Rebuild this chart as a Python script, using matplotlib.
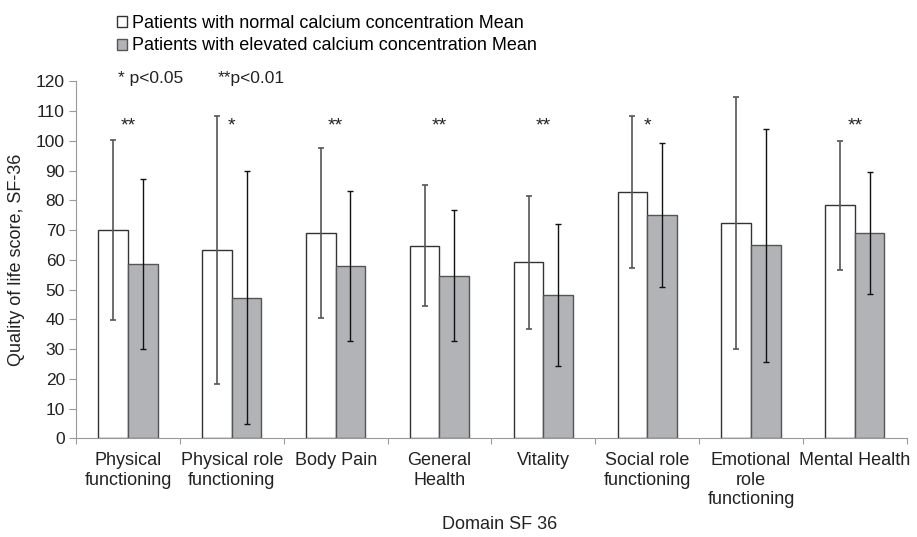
import numpy as np
from matplotlib import pyplot as plt

plt.rcParams['font.family'] = ['Liberation Sans', 'DejaVu Sans']

domains = ['Physical\nfunctioning', 'Physical role\nfunctioning', 'Body Pain',
           'General\nHealth', 'Vitality', 'Social role\nfunctioning',
           'Emotional\nrole\nfunctioning', 'Mental Health']
normal_mean = [70.0, 63.2, 69.0, 64.7, 59.1, 82.9, 72.3, 78.3]
normal_sd = [30.2, 45.0, 28.5, 20.3, 22.5, 25.6, 42.4, 21.8]
elevated_mean = [58.5, 47.3, 57.9, 54.7, 48.2, 75.1, 64.9, 69.0]
elevated_sd = [28.5, 42.6, 25.1, 22.0, 23.9, 24.1, 39.2, 20.5]
stars = ['**', '*', '**', '**', '**', '*', '', '**']

txt = '#222222'
fig = plt.figure(figsize=(9.17, 5.37), dpi=100)
ax = fig.add_axes([0.0829, 0.1838, 0.906, 0.6648])

x = np.arange(len(domains))
w = 0.285
b1 = ax.bar(x - w/2, normal_mean, w, color='white', edgecolor='#333333', linewidth=1.0,
            label='Patients with normal calcium concentration Mean')
b2 = ax.bar(x + w/2, elevated_mean, w, color='#b2b3b7', edgecolor='#555555', linewidth=1.0,
            label='Patients with elevated calcium concentration Mean')
ax.errorbar(x - w/2, normal_mean, yerr=normal_sd, fmt='none', ecolor='#555555',
            elinewidth=1.2, capsize=2, capthick=1.2)
ax.errorbar(x + w/2, elevated_mean, yerr=elevated_sd, fmt='none', ecolor='#111111',
            elinewidth=1.0, capsize=2, capthick=1.0)

# significance marks
for i, s in enumerate(stars):
    ax.text(x[i], 103.6, s, ha='center', va='baseline', fontsize=14, color=txt)

ax.set_xlim(-0.5, len(domains) - 0.5)
ax.set_ylim(0, 120)
ax.set_yticks(range(0, 121, 10))
ax.set_xticks(np.arange(len(domains) + 1) - 0.5)
ax.set_xticklabels([])
ax.set_xticks(x, minor=True)
ax.set_xticklabels(domains, minor=True, fontsize=13, linespacing=1.2, color=txt)
ax.tick_params(axis='x', which='minor', length=0, pad=10)
ax.tick_params(axis='x', which='major', length=4, color='#999999')
ax.tick_params(axis='y', length=5, color='#999999', labelsize=12.5, labelcolor=txt, pad=3)

for s in ['top', 'right']:
    ax.spines[s].set_visible(False)
ax.spines['left'].set_color('#999999')
ax.spines['bottom'].set_color('#999999')

ax.set_ylabel('Quality of life score, SF-36', fontsize=13, color=txt, labelpad=8)
fig.text(0.545, 0.014, 'Domain SF 36', ha='center', va='baseline', fontsize=13, color=txt)

ax.legend(handles=[b1, b2], loc='upper left', bbox_to_anchor=(0.1276, 0.972),
          bbox_transform=fig.transFigure, frameon=False, fontsize=13,
          handlelength=0.55, handleheight=0.55, handletextpad=0.28, labelspacing=0.3,
          borderpad=0, borderaxespad=0)
fig.text(118/917, 1 - 79/537, '* p<0.05', fontsize=12.5, color=txt, va='center')
fig.text(218/917, 1 - 79/537, '**p<0.01', fontsize=12.5, color=txt, va='center')

fig.savefig('out.png', dpi=100)
